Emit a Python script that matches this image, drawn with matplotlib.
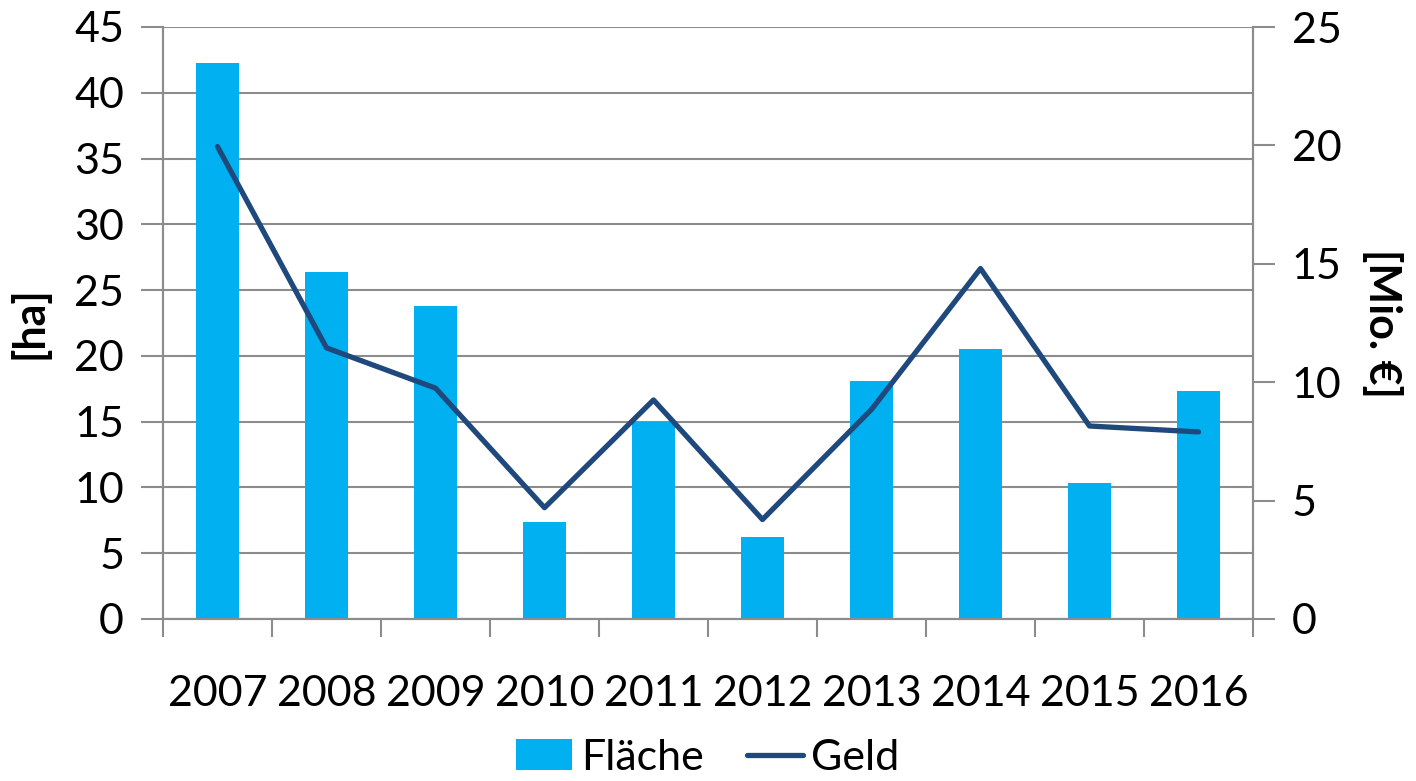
import matplotlib
matplotlib.use("Agg")
import matplotlib.pyplot as plt
import numpy as np

plt.rcParams["font.family"] = ["Lato", "DejaVu Sans"]

YEARS = ["2007", "2008", "2009", "2010", "2011", "2012", "2013", "2014", "2015", "2016"]
FLAECHE = [42.3, 26.4, 23.8, 7.4, 15.0, 6.2, 18.1, 20.5, 10.3, 17.3]   # ha
GELD = [19.95, 11.45, 9.75, 4.7, 9.25, 4.2, 8.85, 14.8, 8.15, 7.9]      # Mio. €

BAR_C = "#00B0F0"
LINE_C = "#1F497D"
GRID_C = "#8C8C8C"

fig = plt.figure(figsize=(14.16, 7.81), dpi=100)
ax = fig.add_axes([163 / 1416, 1 - 619 / 781, (1253 - 163) / 1416, (619 - 27) / 781])
ax2 = ax.twinx()

x = np.arange(len(YEARS))
bars = ax.bar(x, FLAECHE, 0.4, color=BAR_C, zorder=3, label="Fläche")
line, = ax2.plot(x, GELD, color=LINE_C, lw=3.8, solid_capstyle="round", label="Geld", zorder=4)

ax.set_xlim(-0.5, len(YEARS) - 0.5)
ax.set_ylim(0, 45)
ax.set_yticks(np.arange(0, 46, 5))
ax2.set_ylim(0, 25)
ax2.set_yticks(np.arange(0, 26, 5))

ax.yaxis.grid(True, color=GRID_C, lw=1.5, zorder=0)
ax.set_axisbelow(True)

ax.set_xticks(x)
ax.set_xticklabels(YEARS)
ax.set_xticks(np.arange(-0.5, len(YEARS)), minor=True)
ax.tick_params(axis="x", which="major", length=0, labelsize=31, pad=40)
ax.tick_params(axis="x", which="minor", length=13, width=1.5, color=GRID_C)
ax.tick_params(axis="y", length=16, width=1.5, color=GRID_C, labelsize=31, pad=12)
ax2.tick_params(axis="y", length=16, width=1.5, color=GRID_C, labelsize=31, pad=12)

for a in (ax, ax2):
    a.spines["top"].set_visible(False)
    for s in ("left", "right", "bottom"):
        a.spines[s].set_color(GRID_C)
        a.spines[s].set_linewidth(1.5)

ax.set_ylabel("[ha]", fontsize=31, fontweight="bold", labelpad=18)
ax2.set_ylabel("[Mio. €]", fontsize=31, fontweight="bold", rotation=-90, labelpad=44)

fig.legend([bars, line], ["Fläche", "Geld"], loc="center", bbox_to_anchor=(0.5, 0.03),
           ncol=2, frameon=False, fontsize=31, handlelength=1.3, handleheight=0.7,
           columnspacing=1.0, handletextpad=0.2)

fig.savefig("out.png", dpi=100)
